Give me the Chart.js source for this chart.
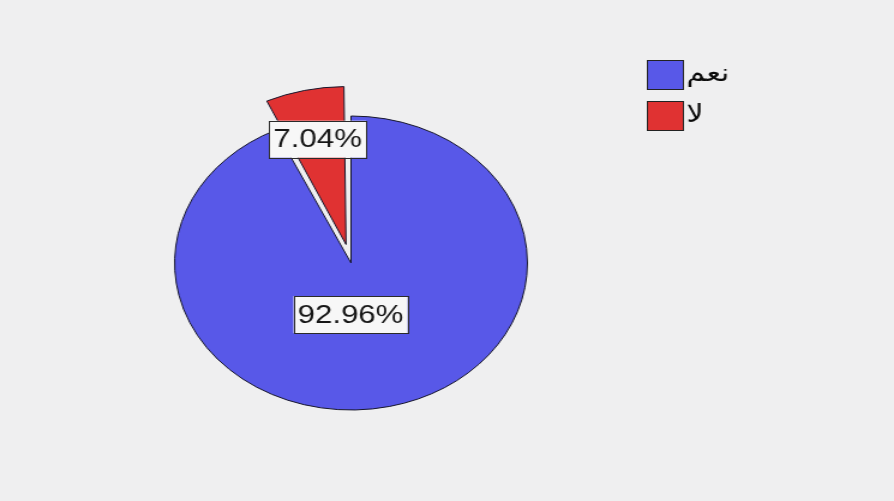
<!DOCTYPE html>
<html lang="ar">
<head>
    <meta charset="UTF-8">
    <title>نعم / لا</title>
    <script src="https://cdn.jsdelivr.net/npm/chart.js"></script>
    <style>
        html, body { margin: 0; padding: 0; background: #efeff0; overflow: hidden; }
        /* the whole chart is stretched sideways, so the pie comes out as an ellipse */
        #wrap { width: 745px; height: 501px; transform: scaleX(1.2); transform-origin: 0 0; }
    </style>
</head>
<body>
    <div id="wrap">
        <canvas id="pieChart" width="745" height="501"></canvas>
    </div>

    <script>
        // answers and their shares (percent)
        const categories = ['نعم', 'لا'];
        const percents = [92.96, 7.04];

        const sliceColors = ['#5858e8', '#e03232'];
        const sliceOffsets = [0, 76];          // the small slice is pulled out
        const labelRadius = [0.36, 0.66];      // label distance, as a share of the radius
        const labelShiftX = [-12, 0];

        const labelFont = '26px "Liberation Sans", Arial, sans-serif';
        const legendFont = '25px "DejaVu Sans", "Liberation Sans", sans-serif';

        // how far Chart.js actually moves an arc for a given offset
        function arcShift(arc, offset) {
            const circ = arc.endAngle - arc.startAngle;
            const fix = 1 - Math.sin(Math.min(Math.PI, circ));
            return offset / 4 * (1 + fix);
        }

        const sliceLabels = {
            id: 'sliceLabels',
            afterDatasetsDraw(chart) {
                const ctx = chart.ctx;
                const arcs = chart.getDatasetMeta(0).data;
                ctx.save();
                ctx.font = labelFont;
                ctx.textAlign = 'center';
                ctx.textBaseline = 'middle';
                arcs.forEach((arc, i) => {
                    const mid = (arc.startAngle + arc.endAngle) / 2;
                    const d = arcShift(arc, sliceOffsets[i]) + arc.outerRadius * labelRadius[i];
                    const x = arc.x + Math.cos(mid) * d + labelShiftX[i];
                    const y = arc.y + Math.sin(mid) * d;
                    const text = percents[i].toFixed(2) + '%';
                    const w = ctx.measureText(text).width + 7;
                    const h = 37;
                    ctx.fillStyle = '#f7f7f7';
                    ctx.fillRect(x - w / 2, y - h / 2, w, h);
                    ctx.strokeStyle = '#2a2a2a';
                    ctx.lineWidth = 1;
                    ctx.strokeRect(Math.round(x - w / 2) + 0.5, Math.round(y - h / 2) + 0.5, Math.round(w), h);
                    ctx.fillStyle = '#161616';
                    ctx.fillText(text, x, y + 1);
                });
                ctx.restore();
            }
        };

        const sideLegend = {
            id: 'sideLegend',
            afterDraw(chart) {
                const ctx = chart.ctx;
                const left = 539, top = 60, box = 30, boxH = 29, step = 41;
                ctx.save();
                ctx.font = legendFont;
                ctx.textBaseline = 'middle';
                ctx.textAlign = 'left';
                chart.data.labels.forEach((label, i) => {
                    const y = top + i * step;
                    ctx.fillStyle = sliceColors[i];
                    ctx.fillRect(left, y, box, boxH);
                    ctx.strokeStyle = '#222';
                    ctx.lineWidth = 1;
                    ctx.strokeRect(left + 0.5, y + 0.5, box, boxH);
                    ctx.fillStyle = '#0a0a0a';
                    ctx.fillText(label, left + box + 3, y + boxH / 2);
                });
                ctx.restore();
            }
        };

        const ctx = document.getElementById('pieChart').getContext('2d');
        new Chart(ctx, {
            type: 'pie',
            data: {
                labels: categories,
                datasets: [{
                    data: percents,
                    backgroundColor: sliceColors,
                    borderColor: '#15152a',
                    borderWidth: 1,
                    offset: sliceOffsets,
                    hoverOffset: 0
                }]
            },
            options: {
                responsive: false,
                animation: false,
                events: [],
                radius: 147,
                layout: { padding: { left: 0, right: 160, top: 25, bottom: 0 } },
                plugins: {
                    legend: { display: false },
                    tooltip: { enabled: false }
                }
            },
            plugins: [sliceLabels, sideLegend]
        });
    </script>
</body>
</html>
